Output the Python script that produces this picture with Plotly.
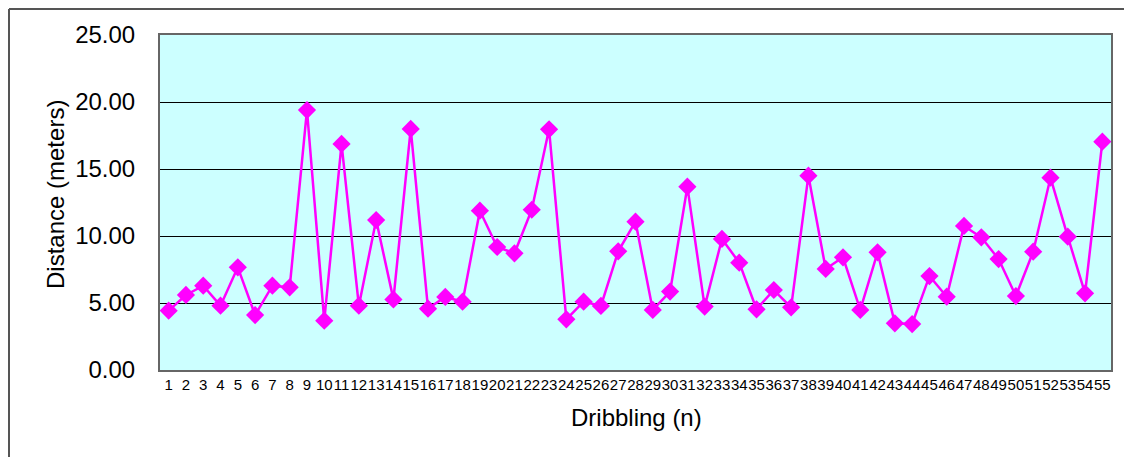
import plotly.graph_objects as go

dribbling = list(range(1, 56))
distance = [
    4.43, 5.60, 6.29, 4.80, 7.66, 4.10, 6.29, 6.17, 19.40, 3.68,
    16.87, 4.80, 11.19, 5.27, 17.99, 4.58, 5.45, 5.10, 11.89, 9.18,
    8.71, 11.96, 17.96, 3.78, 5.10, 4.78, 8.86, 11.07, 4.48, 5.85,
    13.68, 4.73, 9.78, 8.01, 4.53, 5.97, 4.68, 14.50, 7.54, 8.41,
    4.48, 8.78, 3.48, 3.43, 7.01, 5.47, 10.75, 9.90, 8.28, 5.52,
    8.83, 14.35, 9.95, 5.72, 17.04,
]
y_ticks = [0, 5, 10, 15, 20, 25]
y_tick_labels = ["0.00", "5.00", "10.00", "15.00", "20.00", "25.00"]

# page is offset by the default 8px body margin
OFF = 8
PAGE_W, PAGE_H = 1132, 457
W, H = PAGE_W - OFF, PAGE_H - OFF
PL, PR, PT, PB = 160, 1111, 35, 370  # plot area in page pixels
L, R, T, B = PL - OFF, W - (PR - OFF), PT - OFF, H - (PB - OFF)
pw, ph = PR - PL, PB - PT


def px_x(p):
    return (p - PL) / pw


def px_y(p):
    return (PB - p) / ph


fig = go.Figure()
fig.add_trace(go.Scatter(
    x=dribbling, y=distance, mode="lines+markers",
    line=dict(color="#FF00FF", width=2.5),
    marker=dict(symbol="diamond", size=14, color="#FF00FF"),
    showlegend=False, hoverinfo="x+y",
))

font = "Liberation Sans, Arial, sans-serif"
fig.update_layout(
    width=W, height=H,
    margin=dict(l=L, r=R, t=T, b=B),
    paper_bgcolor="white",
    plot_bgcolor="#CCFFFF",
    font=dict(family=font, color="black"),
    xaxis=dict(
        range=[0.5, 55.5], tickmode="array", tickvals=dribbling,
        ticktext=[str(v) for v in dribbling],
        tickfont=dict(size=15, family=font), tickangle=0,
        showgrid=False, zeroline=False,
        showline=True, linecolor="#666666", linewidth=2, mirror=True,
        ticks="",
    ),
    yaxis=dict(
        range=[0, 25], tickmode="array", tickvals=y_ticks,
        ticktext=y_tick_labels, tickfont=dict(size=24, family=font),
        showgrid=True, gridcolor="black", gridwidth=1, zeroline=False,
        showline=True, linecolor="#666666", linewidth=2, mirror=True,
        ticks="", ticklabelstandoff=18,
    ),
    annotations=[
        dict(text="Distance (meters)", xref="paper", yref="paper",
             x=px_x(55), y=px_y(195), xanchor="center", yanchor="middle",
             textangle=-90, showarrow=False, font=dict(size=24, family=font)),
        dict(text="Dribbling (n)", xref="paper", yref="paper",
             x=px_x(636), y=px_y(417), xanchor="center", yanchor="middle",
             showarrow=False, font=dict(size=24, family=font)),
    ],
    shapes=[
        dict(type="line", xref="paper", yref="paper",
             x0=px_x(9), x1=px_x(9), y0=px_y(9), y1=px_y(470),
             line=dict(color="#555555", width=2)),
        dict(type="line", xref="paper", yref="paper",
             x0=px_x(9), x1=px_x(1140), y0=px_y(9), y1=px_y(9),
             line=dict(color="#555555", width=2)),
    ],
)

fig.write_html("out.html")
